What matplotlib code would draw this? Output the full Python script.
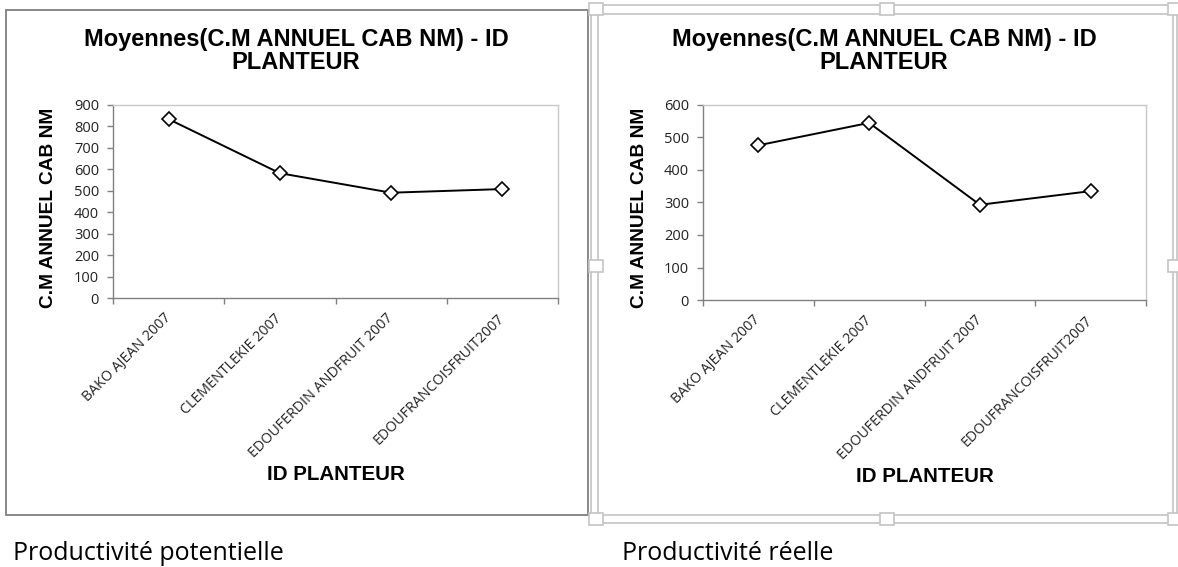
import matplotlib

matplotlib.use("Agg")
import matplotlib.pyplot as plt
from matplotlib.patches import Rectangle

W, H = 1178, 567

planteurs = ["BAKO AJEAN 2007", "CLEMENTLEKIE 2007",
             "EDOUFERDIN ANDFRUIT 2007", "EDOUFRANCOISFRUIT2007"]
prod_potentielle = [834, 582, 491, 508]
prod_reelle = [476, 545, 293, 335]
yticks_pot = list(range(0, 901, 100))
yticks_reel = list(range(0, 601, 100))

titre = "Moyennes(C.M ANNUEL CAB NM) - ID\nPLANTEUR"
ylab = "C.M ANNUEL CAB NM"
xlab = "ID PLANTEUR"
legendes = ["Productivité potentielle", "Productivité réelle"]

BOLD = ["Liberation Sans", "DejaVu Sans"]
BODY = ["Open Sans", "DejaVu Sans"]


def fx(px):
    return px / W


def fy(py):
    return 1 - py / H


def rect(fig, x0, y0, x1, y1, **kw):
    fig.patches.append(Rectangle((fx(x0), fy(y1)), fx(x1) - fx(x0), fy(y0) - fy(y1),
                                 transform=fig.transFigure, fill=False, **kw))


def handle(fig, cx, cy, w=14, h=12):
    fig.patches.append(Rectangle((fx(cx - w / 2), fy(cy + h / 2)), fx(w), h / H,
                                 transform=fig.transFigure, facecolor="white",
                                 edgecolor="#c4c4c4", lw=1.2, zorder=5))


def panel(fig, box, values, yticks, title_x, ylab_x, xlab_y):
    ax = fig.add_axes(box)
    x = list(range(len(values)))
    ax.plot(x, values, color="black", lw=1.4, marker="D", ms=7,
            mfc="white", mec="black", mew=1.2, zorder=3)
    ax.set_xlim(-0.5, len(values) - 0.5)
    ax.set_ylim(yticks[0], yticks[-1])
    ax.set_yticks(yticks)
    ax.set_yticklabels([str(v) for v in yticks], fontsize=10.5, family=BODY, color="#222222")
    ax.tick_params(axis="y", direction="out", length=4, width=1, color="#808080", pad=6)
    ax.set_xticks(x)
    ax.set_xticklabels(planteurs, rotation=45, ha="right", va="center",
                       rotation_mode="anchor", fontsize=10.3, family=BODY, color="#222222")
    ax.tick_params(axis="x", length=0, pad=13)
    ax.set_xticks([i - 0.5 for i in range(len(values) + 1)], minor=True)
    ax.tick_params(axis="x", which="minor", direction="out", length=4, width=1, color="#808080")
    for s in ("top", "right"):
        ax.spines[s].set_color("#c8c8c8")
    for s in ("left", "bottom"):
        ax.spines[s].set_color("#808080")
    for s in ax.spines.values():
        s.set_linewidth(1)

    fig.text(fx(title_x), fy(51), titre, ha="center", va="center",
             fontsize=17, fontweight="bold", family=BOLD, linespacing=1.05)
    fig.text(fx(ylab_x), fy(208), ylab, rotation=90, ha="center", va="center",
             fontsize=13.8, fontweight="bold", family=BOLD)
    ax_mid = box[0] + box[2] / 2
    fig.text(ax_mid, fy(xlab_y), xlab, ha="center", va="center",
             fontsize=14.8, fontweight="bold", family=BOLD)
    return ax


fig = plt.figure(figsize=(W / 100, H / 100), dpi=100)

# left chart: plain gray frame
rect(fig, 6, 10, 588, 515, edgecolor="#7f7f7f", lw=1.3)
panel(fig, [fx(113), fy(298), fx(558) - fx(113), fy(105) - fy(298)],
      prod_potentielle, yticks_pot, 296, 49, 475)

# right chart: selected frame with sizing handles
rect(fig, 591, 5, 1177, 523, edgecolor="#c8c8c8", lw=1.3)
rect(fig, 598, 14, 1173, 515, edgecolor="#c8c8c8", lw=1.3)
for cx, cy in [(596, 9), (887, 9), (1175, 9), (596, 266), (1175, 266),
               (596, 519), (887, 519), (1175, 519)]:
    handle(fig, cx, cy)
panel(fig, [fx(703), fy(300), fx(1146) - fx(703), fy(105) - fy(300)],
      prod_reelle, yticks_reel, 884, 639, 477)

fig.text(fx(13), fy(553), legendes[0], ha="left", va="center", fontsize=18, family=BODY)
fig.text(fx(622), fy(553), legendes[1], ha="left", va="center", fontsize=18, family=BODY)

fig.savefig("out.png", dpi=100)
